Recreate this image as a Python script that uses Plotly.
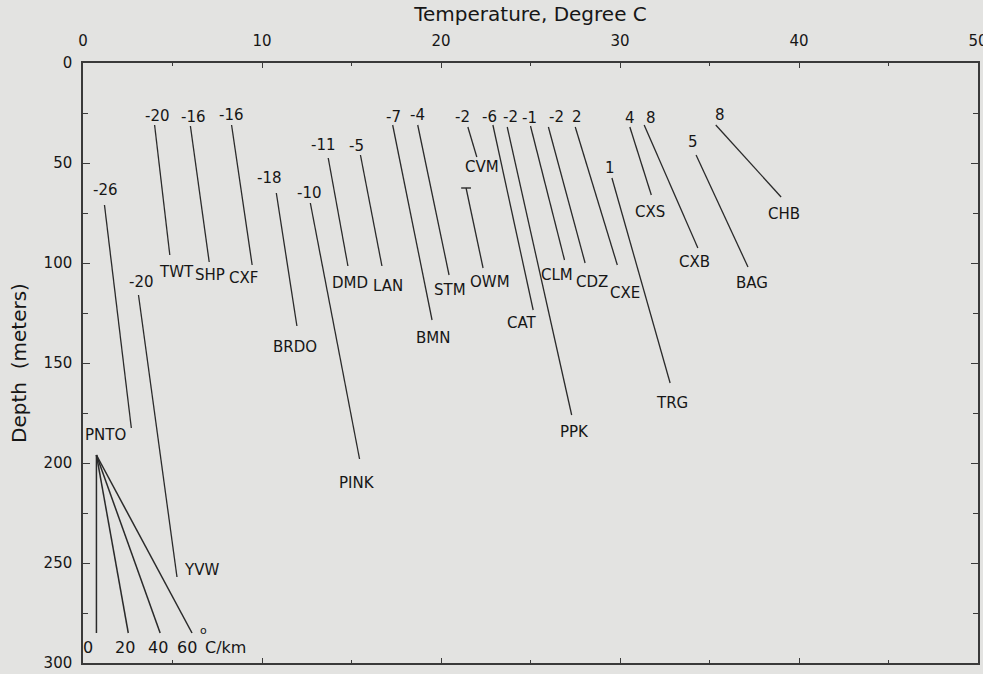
import plotly.graph_objects as go

# Well temperature profiles: straight segments from the shallowest to the deepest reading
wells = ["PNTO", "YVW", "TWT", "SHP", "CXF", "BRDO", "PINK", "DMD", "LAN", "BMN",
         "STM", "CVM", "OWM", "CAT", "PPK", "CLM", "CDZ", "CXE", "TRG", "CXS",
         "CXB", "BAG", "CHB"]
gradient_labels = ["-26", "-20", "-20", "-16", "-16", "-18", "-10", "-11", "-5", "-7",
                   "-4", "-2", "", "-6", "-2", "-1", "-2", "2", "1", "4",
                   "8", "5", "8"]
top_temp = [1.2, 3.1, 4.0, 6.0, 8.3, 10.8, 12.7, 13.7, 15.5, 17.3,
            18.7, 21.5, 21.4, 22.9, 23.7, 25.0, 26.0, 27.5, 29.55, 30.55,
            31.35, 34.25, 35.35]
top_depth = [71, 116, 31, 31.5, 31, 65, 70, 47.5, 46, 31,
             31, 32, 62.5, 31, 32, 31.5, 32, 32, 57.5, 32,
             31, 46, 31]
bottom_temp = [2.7, 5.25, 4.85, 7.05, 9.45, 11.95, 15.45, 14.8, 16.7, 19.5,
               20.45, 22.0, 22.35, 25.15, 27.3, 26.9, 28.05, 29.85, 32.8, 31.75,
               34.35, 37.15, 39.0]
bottom_depth = [182.5, 257, 96, 99.5, 101, 131.5, 198, 101.5, 101.5, 128.5,
                106, 47, 102.5, 123.5, 176, 98.5, 100, 101, 160, 66,
                92.5, 102, 67]

# Reference fan of constant gradients, degrees C per km
fan_gradients = [0, 20, 40, 60]
fan_labels = ["0", "20", "40", "60"]
fan_origin_temp = 0.75
fan_origin_depth = 196
fan_end_depth = 285

# Label placement, in pixels relative to the segment end (dx right, dy down)
name_offsets = [(-26, 7), (25, -7), (7, 17), (1, 13), (-9, 13), (-2, 21), (-3, 24),
                (2, 17), (6, 20), (1, 18), (1, 15), (5, 10), (7, 14), (-11, 13),
                (3, 17), (-8, 15), (7, 19), (8, 28), (2, 20), (-1, 17), (-3, 14),
                (4, 16), (3, 17)]
gradient_offsets = [(1, -15), (3, -13), (3, -9), (3, -9), (0, -10), (-7, -15), (-1, -10),
                    (-5, -13), (-4, -9), (1, -8), (0, -10), (-5, -10), (0, 0), (-3, -8),
                    (3, -10), (-1, -8), (8, -10), (2, -10), (-2, -10), (0, -9), (7, -7),
                    (-3, -13), (4, -10)]
fan_label_offsets = [(-8, 14), (-3, 14), (-2, 14), (-5, 14)]

INK = "#2a2a2a"
TEXT = "#161616"
PAPER = "#e3e3e1"
FONT = "DejaVu Sans"

fig = go.Figure()

for i, name in enumerate(wells):
    fig.add_trace(go.Scatter(
        x=[top_temp[i], bottom_temp[i]],
        y=[top_depth[i], bottom_depth[i]],
        mode="lines",
        line=dict(color=INK, width=1.3),
        hoverinfo="skip",
        showlegend=False,
    ))

# OWM log starts with a short cap
owm = wells.index("OWM")
fig.add_trace(go.Scatter(
    x=[top_temp[owm]], y=[top_depth[owm]], mode="markers",
    marker=dict(symbol="line-ew", size=7, line=dict(color=INK, width=1.4)),
    hoverinfo="skip", showlegend=False,
))

fan_end_temps = [fan_origin_temp + g * (fan_end_depth - fan_origin_depth) / 1000.0
                 for g in fan_gradients]
for t_end in fan_end_temps:
    fig.add_trace(go.Scatter(
        x=[fan_origin_temp, t_end], y=[fan_origin_depth, fan_end_depth],
        mode="lines", line=dict(color=INK, width=1.5),
        hoverinfo="skip", showlegend=False,
    ))

annotations = []
label_font = dict(family=FONT, size=15, color=TEXT)
for i, name in enumerate(wells):
    dx, dy = name_offsets[i]
    annotations.append(dict(
        x=bottom_temp[i], y=bottom_depth[i], xref="x", yref="y",
        text=name, showarrow=False, xshift=dx, yshift=-dy, font=label_font,
    ))
    if gradient_labels[i]:
        gx, gy = gradient_offsets[i]
        annotations.append(dict(
            x=top_temp[i], y=top_depth[i], xref="x", yref="y",
            text=gradient_labels[i], showarrow=False, xshift=gx, yshift=-gy,
            font=label_font,
        ))

for t_end, lab, (dx, dy) in zip(fan_end_temps, fan_labels, fan_label_offsets):
    annotations.append(dict(
        x=t_end, y=fan_end_depth, xref="x", yref="y", text=lab, showarrow=False,
        xshift=dx, yshift=-dy, font=dict(family=FONT, size=16, color=TEXT),
    ))
# unit for the fan: raised degree mark, then C/km
annotations.append(dict(
    x=fan_end_temps[-1], y=fan_end_depth, xref="x", yref="y",
    text="o", showarrow=False, xanchor="left",
    xshift=6, yshift=3, font=dict(family=FONT, size=11, color=TEXT),
))
annotations.append(dict(
    x=fan_end_temps[-1], y=fan_end_depth, xref="x", yref="y",
    text="C/km", showarrow=False, xanchor="left",
    xshift=11, yshift=-14, font=dict(family=FONT, size=16, color=TEXT),
))

axis_common = dict(
    showline=True, linecolor="#3a3a3a", linewidth=1.5, mirror="ticks",
    ticks="inside", tickcolor="#3a3a3a", tickwidth=1.2,
    showgrid=False, zeroline=False, automargin=False,
    tickfont=dict(family=FONT, size=15, color=TEXT),
)

fig.update_layout(
    width=983, height=674,
    margin=dict(l=83, r=5, t=63, b=11),
    paper_bgcolor=PAPER, plot_bgcolor=PAPER,
    annotations=annotations,
    xaxis=dict(
        range=[0, 50], side="top", tick0=0, dtick=10, ticklen=5,
        minor=dict(dtick=5, ticks="inside", ticklen=3, tickcolor="#3a3a3a"),
        ticklabelstandoff=9, ticklabeloverflow="allow",
        title=dict(text="Temperature, Degree C", standoff=5,
                   font=dict(family=FONT, size=20, color=TEXT)),
        **axis_common,
    ),
    yaxis=dict(
        range=[300, 0], tick0=0, dtick=50, ticklen=7,
        minor=dict(dtick=25, ticks="inside", ticklen=5, tickcolor="#3a3a3a"),
        ticklabelstandoff=6, ticklabeloverflow="allow",
        title=dict(text="Depth  (meters)", standoff=12,
                   font=dict(family=FONT, size=20, color=TEXT)),
        **axis_common,
    ),
)

fig.write_html("out.html")
